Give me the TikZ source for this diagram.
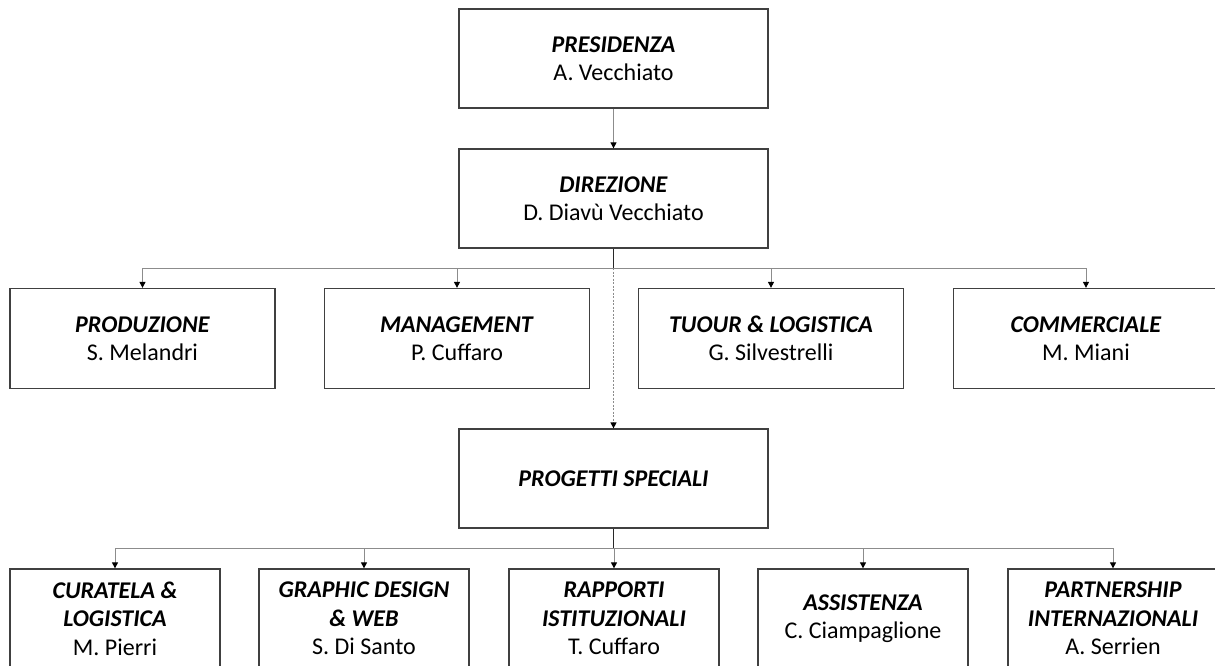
\documentclass[tikz,border=0pt]{standalone}
\usepackage{fontspec}
\setmainfont{Carlito}
\usetikzlibrary{arrows.meta, positioning}
\definecolor{boxgray}{RGB}{64, 64, 64}
\definecolor{linkgray}{RGB}{140, 140, 140}
\definecolor{stemgray}{RGB}{40, 40, 40}

\newcommand{\unit}[2]{\textbf{\textit{#1}}\\#2}

\begin{document}
\begin{tikzpicture}[x=1pt, y=-1pt,
    font=\fontsize{24}{28.5}\selectfont,
    box/.style={draw=boxgray, line width=1.3pt, rectangle, align=center,
        inner sep=0pt, minimum width=309pt, minimum height=99pt},
    midbox/.style={box, minimum width=265pt, minimum height=100pt},
    smallbox/.style={box, minimum width=210pt, minimum height=99pt},
    link/.style={draw=linkgray, line width=1pt, -{Triangle[black, width=6pt, length=6pt]}},
    stem/.style={draw=stemgray, line width=1.6pt},
    dotlink/.style={draw=linkgray, line width=1.3pt, dash pattern=on 2pt off 1.5pt,
        -{Triangle[black, width=6pt, length=6pt]}}]
\useasboundingbox (0,0) rectangle (1215,666);

% Top of the chart
\node[box] (pres) at (613.5, 58.5) {\unit{PRESIDENZA}{A. Vecchiato}};
\node[box] (dir) at (613.5, 198.5) {\unit{DIREZIONE}{D. Diavù Vecchiato}};

% Areas
\node[midbox] (prod) at (142.5, 338.5) {\unit{PRODUZIONE}{S. Melandri}};
\node[midbox] (mgmt) at (457, 338.5) {\unit{MANAGEMENT}{P. Cuffaro}};
\node[midbox] (tour) at (771, 338.5) {\unit{TUOUR \& LOGISTICA}{G. Silvestrelli}};
\node[midbox] (comm) at (1086, 338.5) {\unit{COMMERCIALE}{M. Miani}};

\node[box] (prog) at (613.5, 478.5) {\textbf{\textit{PROGETTI SPECIALI}}};

% Special projects
\node[smallbox] (cura) at (115, 618.5) {\textbf{\textit{CURATELA \&}}\\\textbf{\textit{LOGISTICA}}\\M. Pierri};
\node[smallbox] (graph) at (364, 618.5) {\textbf{\textit{GRAPHIC DESIGN}}\\\textbf{\textit{\& WEB}}\\S. Di Santo};
\node[smallbox] (rapp) at (614, 618.5) {\textbf{\textit{RAPPORTI}}\\\textbf{\textit{ISTITUZIONALI}}\\T. Cuffaro};
\node[smallbox] (assi) at (863, 618.5) {\unit{ASSISTENZA}{C. Ciampaglione}};
\node[smallbox] (part) at (1113, 618.5) {\textbf{\textit{PARTNERSHIP}}\\\textbf{\textit{INTERNAZIONALI}}\\A. Serrien};

% Connectors
\coordinate (dbar) at (613.5, 268);
\coordinate (pbar) at (613.5, 548.5);
\draw[link] (pres) -- (dir);
\draw[stem] (dir.south) -- (dbar);
\foreach \child in {prod, mgmt, tour, comm}
    \draw[link] (dbar) -| (\child.north);
\draw[dotlink] (dbar) -- (prog.north);
\draw[stem] (prog.south) -- (pbar);
\foreach \child in {cura, graph, rapp, assi, part}
    \draw[link] (pbar) -| (\child.north);
\end{tikzpicture}
\end{document}
